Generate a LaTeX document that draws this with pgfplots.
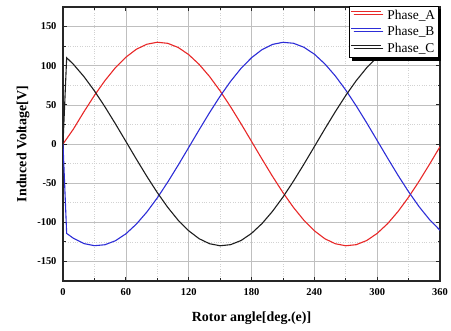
\documentclass[border=0pt]{standalone}
\usepackage{pgfplots}
\pgfplotsset{compat=1.18}
\usepackage{fontspec}
\setmainfont{Liberation Serif}
\usetikzlibrary{shadows}
\definecolor{ra}{RGB}{232,40,40}
\definecolor{bb}{RGB}{45,45,215}
\definecolor{cc}{RGB}{30,30,30}
\begin{document}
\begin{tikzpicture}
\useasboundingbox (0,0) rectangle (451bp,331bp);
\begin{axis}[
  at={(63bp,50bp)}, anchor=south west,
  scale only axis, width=377bp, height=274bp,
  xmin=0, xmax=360, ymin=-175, ymax=175,
  xtick={0,60,...,360}, ytick={-150,-100,...,150},
  minor x tick num=1, minor y tick num=1,
  tick align=inside, tick pos=both,
  major tick length=4bp, minor tick length=2.5bp,
  grid=both,
  major grid style={gray!50, line width=0.6bp},
  minor grid style={gray!35, dotted, line width=0.6bp},
  axis line style={line width=1.1bp, black!85},
  every tick/.style={black!85, line width=0.8bp},
  /pgf/number format/assume math mode=true,
  ticklabel style={font=\fontsize{10.5}{12}\selectfont\bfseries},
  xticklabel style={yshift=-4bp},
  yticklabel style={xshift=-3bp},
  xlabel={Rotor angle[deg.(e)]},
  ylabel={Induced Voltage[V]},
  label style={font=\fontsize{14}{16}\selectfont\bfseries},
  xlabel style={yshift=-9bp},
  ylabel style={yshift=1bp},
  legend style={at={(1,1)}, anchor=north east, xshift=-1bp, yshift=1bp,
    draw=black, fill=white, line width=0.6bp,
    font=\fontsize{13.5}{15}\selectfont,
    row sep=2bp, inner sep=1.5bp,
    /tikz/every odd column/.append style={column sep=4bp},
    drop shadow={shadow xshift=2.5bp, shadow yshift=-3bp, opacity=1, fill=black}},
  legend cell align=left,
  legend image code/.code={\draw[#1, line width=0.9bp] (0cm,3.5bp) -- (1.05cm,3.5bp);},
]
\addplot[color=ra, line width=1.1bp] coordinates {
(0,0) (10,19.2) (20,41.2) (30,62.0) (40,80.9) (50,97.4) (60,110.8) (70,121.0)
(80,127.4) (90,130.0) (100,128.6) (110,123.3) (120,114.2) (130,101.7) (140,86.1)
(150,67.9) (160,47.6) (170,25.9) (180,3.4) (190,-19.2) (200,-41.2) (210,-62.0)
(220,-80.9) (230,-97.4) (240,-110.8) (250,-121.0) (260,-127.4) (270,-130.0)
(280,-128.6) (290,-123.3) (300,-114.2) (310,-101.7) (320,-86.1) (330,-67.9)
(340,-47.6) (350,-25.9) (360,-3.4)
};
\addlegendentry{Phase\_A}
\addplot[color=bb, line width=1.1bp] coordinates {
(0,0) (3.5,-114.2) (10,-120.5) (20,-127.2) (30,-129.9) (40,-128.7) (50,-123.6)
(60,-114.8) (70,-102.4) (80,-87.0) (90,-68.9) (100,-48.7) (110,-27.0) (120,-4.5)
(130,18.1) (140,40.2) (150,61.0) (160,80.0) (170,96.6) (180,110.2) (190,120.5)
(200,127.2) (210,129.9) (220,128.7) (230,123.6) (240,114.8) (250,102.4) (260,87.0)
(270,68.9) (280,48.7) (290,27.0) (300,4.5) (310,-18.1) (320,-40.2) (330,-61.0)
(340,-80.0) (350,-96.6) (360,-110.2)
};
\addlegendentry{Phase\_B}
\addplot[color=cc, line width=1.1bp] coordinates {
(0,0) (3.5,110.2) (10,101.7) (20,86.1) (30,67.9) (40,47.6) (50,25.9) (60,3.4)
(70,-19.2) (80,-41.2) (90,-62.0) (100,-80.9) (110,-97.4) (120,-110.8) (130,-121.0)
(140,-127.4) (150,-130.0) (160,-128.6) (170,-123.3) (180,-114.2) (190,-101.7)
(200,-86.1) (210,-67.9) (220,-47.6) (230,-25.9) (240,-3.4) (250,19.2) (260,41.2)
(270,62.0) (280,80.9) (290,97.4) (300,110.8) (310,121.0) (320,127.4) (330,130.0)
(340,128.6) (350,123.3) (360,114.2)
};
\addlegendentry{Phase\_C}
\end{axis}
\end{tikzpicture}
\end{document}
